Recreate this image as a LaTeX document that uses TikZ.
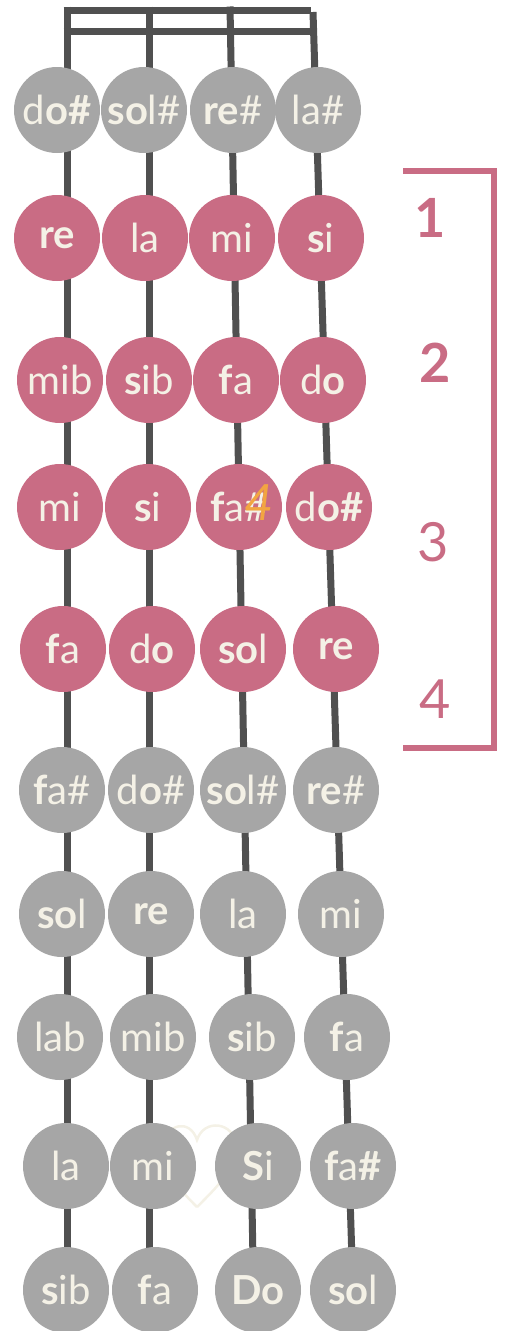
\documentclass[tikz,border=0pt]{standalone}
\usepackage{fontspec}
\setmainfont{Lato}
\usetikzlibrary{backgrounds}
\definecolor{pinkc}{HTML}{C96C84}
\definecolor{grayc}{HTML}{A6A6A6}
\definecolor{creamc}{HTML}{F4F1E6}
\definecolor{strc}{HTML}{505050}
\definecolor{orangec}{HTML}{F2A541}
\newcommand\bl[1]{{\bfseries #1}}
\begin{document}
\begin{tikzpicture}[x=1pt,y=-1pt,
  note/.style={circle,minimum size=86pt,inner sep=0pt,text=creamc,font=\fontsize{40}{40}\selectfont},
  pk/.style={note,fill=pinkc},
  gy/.style={note,fill=grayc},
  stringline/.style={draw=strc,line width=7pt},
  fingernum/.style={text=pinkc,font=\fontsize{54}{54}\selectfont,inner sep=0pt},
  heartline/.style={draw=creamc,line width=2.5pt}]
\useasboundingbox (0,0) rectangle (506,1331);
% row 0
\node[gy] (a0) at (57,110) {d\bl{o\#}};
\node[gy] (b0) at (144,110) {\bl{so}l\#};
\node[gy] (c0) at (233,110) {\bl{re}\#};
\node[gy] (d0) at (318,110) {la\#};
% row 1
\node[pk] (a1) at (57,238) {\bl{re}};
\node[pk] (b1) at (145,238) {la};
\node[pk] (c1) at (232,238) {mi};
\node[pk] (d1) at (321,238) {\bl{s}i};
% row 2
\node[pk] (a2) at (60,380) {mib};
\node[pk] (b2) at (149,380) {\bl{s}ib};
\node[pk] (c2) at (236,380) {\bl{f}a};
\node[pk] (d2) at (323,380) {d\bl{o}};
% row 3
\node[pk] (a3) at (60,507) {mi};
\node[pk] (b3) at (148,507) {\bl{s}i};
\node[pk] (c3) at (239,507) {\bl{f}a\#};
\node[pk] (d3) at (329,507) {d\bl{o\#}};
\node[text=orangec,font=\fontsize{50}{50}\selectfont\itshape,inner sep=0pt] (fing) at (259,503) {4};
% row 4
\node[pk] (a4) at (63,649) {\bl{f}a};
\node[pk] (b4) at (152,649) {d\bl{o}};
\node[pk] (c4) at (243,649) {\bl{so}l};
\node[pk] (d4) at (336,649) {\bl{re}};
% row 5
\node[gy] (a5) at (62,790) {\bl{f}a\#};
\node[gy] (b5) at (151,790) {d\bl{o}\#};
\node[gy] (c5) at (243,790) {\bl{so}l\#};
\node[gy] (d5) at (336,790) {\bl{re}\#};
% row 6
\node[gy] (a6) at (62,914) {\bl{so}l};
\node[gy] (b6) at (151,914) {\bl{re}};
\node[gy] (c6) at (243,914) {la};
\node[gy] (d6) at (341,914) {mi};
% row 7
\node[gy] (a7) at (60,1037) {lab};
\node[gy] (b7) at (153,1037) {mib};
\node[gy] (c7) at (252,1037) {\bl{s}ib};
\node[gy] (d7) at (347,1037) {\bl{f}a};
% row 8
\node[gy] (a8) at (66,1166) {la};
\node[gy] (b8) at (153,1166) {mi};
\node[gy] (c8) at (258,1166) {\bl{S}i};
\node[gy] (d8) at (353,1166) {\bl{f}a\bl{\#}};
% row 9
\node[gy] (a9) at (66,1290) {\bl{s}ib};
\node[gy] (b9) at (155,1290) {\bl{f}a};
\node[gy] (c9) at (258,1290) {\bl{Do}};
\node[gy] (d9) at (353,1290) {\bl{so}l};
% nut and string end coordinates
\coordinate (n1) at (67,6.5);
\coordinate (n2) at (149,6.5);
\coordinate (n3) at (230,6.5);
\coordinate (n4) at (313,12);
\coordinate (e1) at (67,1260);
\coordinate (e2) at (149,1260);
\coordinate (e3) at (253,1260);
\coordinate (e4) at (352,1260);
\begin{scope}[on background layer]
  \draw[heartline] (197,1207) .. controls (178,1188) and (160,1168) .. (163,1145)
     .. controls (166,1124) and (190,1118) .. (197,1140)
     .. controls (204,1118) and (234,1122) .. (236,1145)
     .. controls (237,1168) and (216,1188) .. (197,1207);
  \draw[stringline] (n1) -- (e1);
  \draw[stringline] (n2) -- (e2);
  \draw[stringline] (n3) -- (e3);
  \draw[stringline] (n4) -- (e4);
  \draw[stringline] (63.5,10) -- (311,10);
  \draw[stringline] (63.5,31) -- (316,31);
\end{scope}
% finger bracket
\draw[draw=pinkc,line width=6pt] (403,171) -| (494,748) -- (403,748);
\node[fingernum] (f1) at (430,218) {\bl{1}};
\node[fingernum] (f2) at (435,363) {\bl{2}};
\node[fingernum] (f3) at (433,542) {3};
\node[fingernum] (f4) at (435,699) {4};
\end{tikzpicture}
\end{document}
